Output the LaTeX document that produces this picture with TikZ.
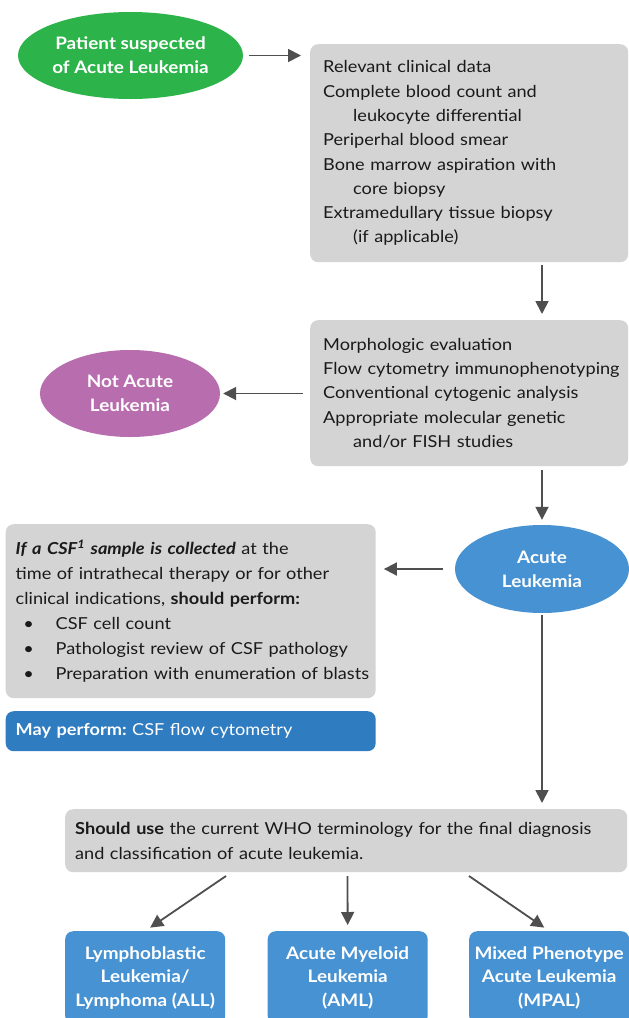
\documentclass[tikz,border=0pt]{standalone}
\usepackage{fontspec}
\setmainfont{Lato}[FakeStretch=1.1]
\usetikzlibrary{shapes.geometric,arrows.meta,calc}
\definecolor{cgreen}{HTML}{2CB34A}
\definecolor{cpurple}{HTML}{B86DAE}
\definecolor{clblue}{HTML}{4792D2}
\definecolor{cdblue}{HTML}{2F7CC0}
\definecolor{cgray}{HTML}{D4D4D4}
\definecolor{carrow}{HTML}{4F4F4F}
\definecolor{ctxt}{HTML}{1A1A1A}
\frenchspacing
\begin{document}
\begin{tikzpicture}[x=1pt,y=-1pt,
  oval/.style={ellipse, inner sep=0pt, text=white, align=center,
    font=\bfseries\fontsize{17.2}{24}\selectfont},
  graybox/.style={rectangle, rounded corners=8pt, fill=cgray, anchor=north west,
    align=left, text=ctxt, inner ysep=0pt, font=\fontsize{16.5}{24.3}\selectfont},
  outbox/.style={rectangle, rounded corners=8pt, fill=clblue, anchor=north west,
    text=white, align=center, minimum width=160pt, minimum height=93pt, inner sep=0pt,
    font=\bfseries\fontsize{17.2}{23.5}\selectfont},
  arr/.style={draw=carrow, line width=1.8pt, -{Triangle[length=13pt,width=13pt]}}
]
\useasboundingbox (0,0) rectangle (629,1018);
\clip (0,0) rectangle (629,1018);
\fill[white] (0,0) rectangle (629,1018);

% ovals
\node[oval, fill=cgreen, minimum width=225pt, minimum height=87pt] (pat) at (130.5,55.5)
  {Patient suspected\\of Acute Leukemia};
\node[oval, fill=cpurple, minimum width=180pt, minimum height=87pt] (not) at (130,393.5)
  {Not Acute\\Leukemia};
\node[oval, fill=clblue, minimum width=174pt, minimum height=88pt] (acute) at (542,569)
  {Acute\\Leukemia};

% gray boxes
\node[graybox, inner xsep=13pt, text width=292pt, minimum width=318pt, minimum height=218pt] (b1) at (310,44)
  {\mbox{Relevant clinical data}\\
   \mbox{Complete blood count and}\\
   \hspace*{30pt}\mbox{leukocyte differential}\\
   \mbox{Periperhal blood smear}\\
   \mbox{Bone marrow aspiration with}\\
   \hspace*{30pt}\mbox{core biopsy}\\
   \mbox{Extramedullary tissue biopsy}\\
   \hspace*{30pt}\mbox{(if applicable)}};
\node[graybox, inner xsep=13pt, text width=292pt, minimum width=318pt, minimum height=146pt] (b2) at (310,320)
  {\mbox{Morphologic evaluation}\\
   \mbox{Flow cytometry immunophenotyping}\\
   \mbox{Conventional cytogenic analysis}\\
   \mbox{Appropriate molecular genetic}\\
   \hspace*{30pt}\mbox{and/or FISH studies}};
\node[graybox, inner xsep=10pt, text width=350pt, minimum width=370pt, minimum height=174pt,
  font=\fontsize{16.5}{25}\selectfont] (b3) at (5.5,524)
  {\mbox{\textbf{\textit{If a CSF\textsuperscript{1} sample is collected}} at the}\\
   \mbox{time of intrathecal therapy or for other}\\
   \mbox{clinical indications, \textbf{should perform:}}\\
   \hspace*{9pt}\makebox[8pt]{\textbullet}\hspace*{23pt}\mbox{CSF cell count}\\
   \hspace*{9pt}\makebox[8pt]{\textbullet}\hspace*{23pt}\mbox{Pathologist review of CSF pathology}\\
   \hspace*{9pt}\makebox[8pt]{\textbullet}\hspace*{23pt}\mbox{Preparation with enumeration of blasts}};
\node[graybox, fill=cdblue, text=white, inner xsep=10pt, text width=350pt, minimum width=370pt,
  minimum height=40pt] (may) at (5.5,711)
  {\mbox{\textbf{May perform:} CSF flow cytometry}};
\node[graybox, inner xsep=10pt, text width=542pt, minimum width=562pt, minimum height=63pt,
  font=\fontsize{16.5}{25}\selectfont] (b4) at (65,809)
  {\mbox{\textbf{Should use} the current WHO terminology for the final diagnosis}\\
   \mbox{and classification of acute leukemia.}};

% outcome boxes
\node[outbox] (all) at (65,931) {Lymphoblastic\\Leukemia/\\Lymphoma (ALL)};
\node[outbox] (aml) at (267.5,931) {Acute Myeloid\\Leukemia\\(AML)};
\node[outbox] (mpal) at (469,931) {Mixed Phenotype\\Acute Leukemia\\(MPAL)};

% connectors
\draw[arr, shorten <=6pt, shorten >=9pt] (pat.east) -- (pat.east -| b1.west);
\draw[arr, shorten <=3pt, shorten >=6pt] (b1.south -| acute) -- (b2.north -| acute);
\draw[arr, shorten <=7pt, shorten >=3pt] (b2.west |- not) -- (not.east);
\draw[arr, shorten <=4pt, shorten >=5pt] (b2.south -| acute) -- (acute.north);
\draw[arr, shorten <=12pt, shorten >=8pt] (acute.west) -- (acute.west -| b3.east);
\draw[arr, shorten <=2pt, shorten >=6pt] (acute.south) -- (acute.south |- b4.north);
\coordinate (s1) at (226,876);
\coordinate (s2) at (347.5,876);
\coordinate (s3) at (469,876);
\draw[arr, shorten >=6pt] (s1) -- (all.north);
\draw[arr, shorten >=6pt] (s2) -- (aml.north);
\draw[arr, shorten >=6pt] (s3) -- (mpal.north);
\end{tikzpicture}
\end{document}
